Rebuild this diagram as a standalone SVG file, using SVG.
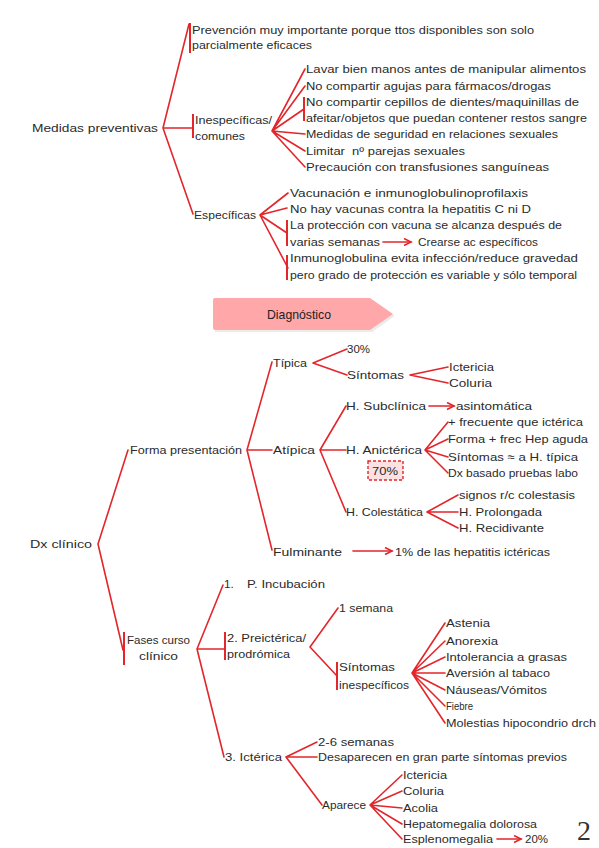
<svg xmlns="http://www.w3.org/2000/svg" width="599" height="848" viewBox="0 0 599 848">
<defs>
<style>
.c{stroke:#E3262B;stroke-width:1.6;fill:none;stroke-linecap:round;stroke-linejoin:round}
.b{stroke:#E3262B;stroke-width:2;fill:none}
.t{font-family:"Liberation Sans",Arial,sans-serif;font-size:11.8px;fill:#2b2b2b}
.h{font-family:"Liberation Sans",Arial,sans-serif;font-size:13px;fill:#222}
</style>
<marker id="ar" markerWidth="10" markerHeight="10" refX="8" refY="4" orient="auto" markerUnits="userSpaceOnUse">
<path d="M1,0.5 L8,4 L1,7.5" stroke="#E3262B" stroke-width="1.6" fill="none"/>
</marker>
</defs>
<rect width="599" height="848" fill="#fff"/>

<g id="connectors">
<path class="c" d="M163,128 L189,24 M163,128 L193,128 M163,128 L193,214"/>
<line class="b" x1="190" y1="23" x2="190" y2="53"/>
<line class="b" x1="193" y1="114" x2="193" y2="138"/>
<path class="c" d="M272,131 L305,69 M272,131 L305,86 M272,131 L304,109 M272,131 L305,134 M272,131 L305,151 M272,131 L305,167"/>
<line class="b" x1="304" y1="97" x2="304" y2="121"/>
<path class="c" d="M260,215 L288,193 M260,215 L287,208 M260,215 L287,233 M260,215 L288,268"/>
<line class="b" x1="287" y1="220" x2="287" y2="246"/>
<line class="b" x1="287" y1="255" x2="287" y2="280"/>
<line class="c" x1="383" y1="242" x2="411" y2="242" marker-end="url(#ar)"/>
<path class="c" d="M98,544 L128,450 M98,544 L123,650"/>
<line class="b" x1="124" y1="632" x2="124" y2="665"/>
<path class="c" d="M247,450 L272,362 M247,450 L272,450 M247,450 L272,550"/>
<path class="c" d="M313,363 L347,349 M313,363 L347,375"/>
<path class="c" d="M410,375 L448,367 M410,375 L448,383"/>
<path class="c" d="M320,450 L346,406 M320,450 L346,450 M320,450 L346,512"/>
<line class="c" x1="429" y1="406" x2="454" y2="406" marker-end="url(#ar)"/>
<path class="c" d="M425,450 L448,422 M425,450 L448,439 M425,450 L448,457 M425,450 L448,473"/>
<path class="c" d="M427,512 L458,495 M427,512 L458,512 M427,512 L458,528"/>
<line class="c" x1="353" y1="551" x2="392" y2="551" marker-end="url(#ar)"/>
<path class="c" d="M197,649 L223,585 M197,649 L225,649 M197,649 L224,757"/>
<line class="b" x1="225" y1="632" x2="225" y2="660"/>
<path class="c" d="M310,647 L338,608 M310,647 L337,676"/>
<line class="b" x1="337" y1="662" x2="337" y2="690"/>
<path class="c" d="M412,673 L445,623 M412,673 L445,641 M412,673 L445,657 M412,673 L445,673 M412,673 L445,690 M412,673 L445,706 M412,673 L445,723"/>
<path class="c" d="M286,757 L317,742 M286,757 L317,757 M286,757 L322,805"/>
<path class="c" d="M370,805 L402,775 M370,805 L402,791 M370,805 L402,808 M370,805 L402,824 M370,805 L402,839"/>
<line class="c" x1="497" y1="839" x2="521" y2="839" marker-end="url(#ar)"/>
</g>

<g id="medidas"><text class="t" x="32" y="132" textLength="126" lengthAdjust="spacingAndGlyphs">Medidas preventivas</text></g>
<g id="prevencion">
<text class="t" x="192" y="34" textLength="342" lengthAdjust="spacingAndGlyphs">Prevención muy importante porque ttos disponibles son solo</text>
<text class="t" x="192" y="49" textLength="120" lengthAdjust="spacingAndGlyphs">parcialmente eficaces</text>
</g>
<g id="inespecificas">
<text class="t" x="195" y="124" textLength="77" lengthAdjust="spacingAndGlyphs">Inespecíficas/</text>
<text class="t" x="195" y="140" textLength="50" lengthAdjust="spacingAndGlyphs">comunes</text>
</g>
<g id="ines-items">
<text class="t" x="306" y="73" textLength="280" lengthAdjust="spacingAndGlyphs">Lavar bien manos antes de manipular alimentos</text>
<text class="t" x="306" y="90" textLength="245" lengthAdjust="spacingAndGlyphs">No compartir agujas para fármacos/drogas</text>
<text class="t" x="306" y="106" textLength="273" lengthAdjust="spacingAndGlyphs">No compartir cepillos de dientes/maquinillas de</text>
<text class="t" x="306" y="122" textLength="281" lengthAdjust="spacingAndGlyphs">afeitar/objetos que puedan contener restos sangre</text>
<text class="t" x="306" y="138" textLength="252" lengthAdjust="spacingAndGlyphs">Medidas de seguridad en relaciones sexuales</text>
<text class="t" x="306" y="155" textLength="159" lengthAdjust="spacingAndGlyphs" xml:space="preserve">Limitar  nº parejas sexuales</text>
<text class="t" x="306" y="171" textLength="243" lengthAdjust="spacingAndGlyphs">Precaución con transfusiones sanguíneas</text>
</g>
<g id="especificas"><text class="t" x="194" y="219" textLength="62" lengthAdjust="spacingAndGlyphs">Específicas</text></g>
<g id="esp-items">
<text class="t" x="290" y="197" textLength="238" lengthAdjust="spacingAndGlyphs">Vacunación e inmunoglobulinoprofilaxis</text>
<text class="t" x="290" y="213" textLength="241" lengthAdjust="spacingAndGlyphs">No hay vacunas contra la hepatitis C ni D</text>
<text class="t" x="290" y="229" textLength="272" lengthAdjust="spacingAndGlyphs">La protección con vacuna se alcanza después de</text>
<text class="t" x="290" y="246" textLength="90" lengthAdjust="spacingAndGlyphs">varias semanas</text>
<text class="t" x="418" y="246" textLength="120" lengthAdjust="spacingAndGlyphs">Crearse ac específicos</text>
<text class="t" x="290" y="262" textLength="288" lengthAdjust="spacingAndGlyphs">Inmunoglobulina evita infección/reduce gravedad</text>
<text class="t" x="290" y="279" textLength="287" lengthAdjust="spacingAndGlyphs">pero grado de protección es variable y sólo temporal</text>
</g>

<g id="diagnostico">
<path d="M215,300 L372,300 L395,316 L372,332 L215,332 Z" fill="#000" opacity="0.08"/>
<path d="M215,298 L370,298 L393,314 L370,330 L215,330 Q213,330 213,328 L213,300 Q213,298 215,298 Z" fill="#FFA7A9"/>
<text class="h" x="299" y="319" text-anchor="middle" textLength="64" lengthAdjust="spacingAndGlyphs">Diagnóstico</text>
</g>

<g id="dx"><text class="t" x="30" y="548" textLength="62" lengthAdjust="spacingAndGlyphs">Dx clínico</text></g>
<g id="forma"><text class="t" x="130" y="454" textLength="112" lengthAdjust="spacingAndGlyphs">Forma presentación</text></g>
<g id="tipica"><text class="t" x="273" y="367" textLength="34" lengthAdjust="spacingAndGlyphs">Típica</text></g>
<g id="t30"><text class="t" x="347" y="353" textLength="23" lengthAdjust="spacingAndGlyphs">30%</text></g>
<g id="sintomas1"><text class="t" x="347" y="379" textLength="57" lengthAdjust="spacingAndGlyphs">Síntomas</text></g>
<g id="sint1-items">
<text class="t" x="449" y="371" textLength="45" lengthAdjust="spacingAndGlyphs">Ictericia</text>
<text class="t" x="449" y="387" textLength="43" lengthAdjust="spacingAndGlyphs">Coluria</text>
</g>
<g id="atipica"><text class="t" x="273" y="454" textLength="42" lengthAdjust="spacingAndGlyphs">Atípica</text></g>
<g id="subclinica">
<text class="t" x="346" y="410" textLength="80" lengthAdjust="spacingAndGlyphs">H. Subclínica</text>
<text class="t" x="456" y="410" textLength="76" lengthAdjust="spacingAndGlyphs">asintomática</text>
</g>
<g id="anicterica">
<text class="t" x="346" y="454" textLength="76" lengthAdjust="spacingAndGlyphs">H. Anictérica</text>
<rect x="368" y="461" width="35" height="19" fill="#FBE1E1" stroke="#E3262B" stroke-width="1.4" stroke-dasharray="3,2"/>
<text class="t" x="372" y="475" textLength="26" lengthAdjust="spacingAndGlyphs">70%</text>
</g>
<g id="anic-items">
<text class="t" x="448" y="426" textLength="135" lengthAdjust="spacingAndGlyphs">+ frecuente que ictérica</text>
<text class="t" x="448" y="443" textLength="140" lengthAdjust="spacingAndGlyphs">Forma + frec Hep aguda</text>
<text class="t" x="448" y="461" textLength="130" lengthAdjust="spacingAndGlyphs">Síntomas ≈ a H. típica</text>
<text class="t" x="448" y="477" textLength="130" lengthAdjust="spacingAndGlyphs">Dx basado pruebas labo</text>
</g>
<g id="colestatica"><text class="t" x="346" y="516" textLength="77" lengthAdjust="spacingAndGlyphs">H. Colestática</text></g>
<g id="coles-items">
<text class="t" x="459" y="499" textLength="116" lengthAdjust="spacingAndGlyphs">signos r/c colestasis</text>
<text class="t" x="459" y="516" textLength="83" lengthAdjust="spacingAndGlyphs">H. Prolongada</text>
<text class="t" x="459" y="532" textLength="85" lengthAdjust="spacingAndGlyphs">H. Recidivante</text>
</g>
<g id="fulminante">
<text class="t" x="273" y="556" textLength="69" lengthAdjust="spacingAndGlyphs">Fulminante</text>
<text class="t" x="395" y="556" textLength="155" lengthAdjust="spacingAndGlyphs">1% de las hepatitis ictéricas</text>
</g>

<g id="fases">
<text class="t" x="127" y="644" textLength="63" lengthAdjust="spacingAndGlyphs">Fases curso</text>
<text class="t" x="139" y="660" textLength="39" lengthAdjust="spacingAndGlyphs">clínico</text>
</g>
<g id="incubacion">
<text class="t" x="224" y="588">1.</text>
<text class="t" x="247" y="588" textLength="78" lengthAdjust="spacingAndGlyphs">P. Incubación</text>
</g>
<g id="preicterica">
<text class="t" x="227" y="642" textLength="79" lengthAdjust="spacingAndGlyphs">2. Preictérica/</text>
<text class="t" x="227" y="658" textLength="63" lengthAdjust="spacingAndGlyphs">prodrómica</text>
</g>
<g id="semana1"><text class="t" x="339" y="612" textLength="54" lengthAdjust="spacingAndGlyphs">1 semana</text></g>
<g id="sint-inesp">
<text class="t" x="339" y="671" textLength="56" lengthAdjust="spacingAndGlyphs">Síntomas</text>
<text class="t" x="339" y="689" textLength="70" lengthAdjust="spacingAndGlyphs">inespecíficos</text>
</g>
<g id="sint-inesp-items">
<text class="t" x="446" y="627" textLength="44" lengthAdjust="spacingAndGlyphs">Astenia</text>
<text class="t" x="446" y="645" textLength="52" lengthAdjust="spacingAndGlyphs">Anorexia</text>
<text class="t" x="446" y="661" textLength="121" lengthAdjust="spacingAndGlyphs">Intolerancia a grasas</text>
<text class="t" x="446" y="677" textLength="104" lengthAdjust="spacingAndGlyphs">Aversión al tabaco</text>
<text class="t" x="446" y="694" textLength="101" lengthAdjust="spacingAndGlyphs">Náuseas/Vómitos</text>
<text class="t" x="446" y="710" textLength="27" lengthAdjust="spacingAndGlyphs">Fiebre</text>
<text class="t" x="446" y="727" textLength="150" lengthAdjust="spacingAndGlyphs">Molestias hipocondrio drch</text>
</g>
<g id="icterica"><text class="t" x="225" y="761" textLength="57" lengthAdjust="spacingAndGlyphs">3. Ictérica</text></g>
<g id="ict-items">
<text class="t" x="318" y="746" textLength="76" lengthAdjust="spacingAndGlyphs">2-6 semanas</text>
<text class="t" x="318" y="761" textLength="249" lengthAdjust="spacingAndGlyphs">Desaparecen en gran parte síntomas previos</text>
</g>
<g id="aparece"><text class="t" x="322" y="809" textLength="44" lengthAdjust="spacingAndGlyphs">Aparece</text></g>
<g id="aparece-items">
<text class="t" x="403" y="779" textLength="44" lengthAdjust="spacingAndGlyphs">Ictericia</text>
<text class="t" x="403" y="795" textLength="41" lengthAdjust="spacingAndGlyphs">Coluria</text>
<text class="t" x="403" y="812" textLength="35" lengthAdjust="spacingAndGlyphs">Acolia</text>
<text class="t" x="403" y="828" textLength="134" lengthAdjust="spacingAndGlyphs">Hepatomegalia dolorosa</text>
<text class="t" x="403" y="843" textLength="90" lengthAdjust="spacingAndGlyphs">Esplenomegalia</text>
<text class="t" x="525" y="843" textLength="23" lengthAdjust="spacingAndGlyphs">20%</text>
</g>
<g id="page"><text x="577" y="840" font-family="'Liberation Serif',serif" font-size="28" fill="#333">2</text></g>
</svg>
